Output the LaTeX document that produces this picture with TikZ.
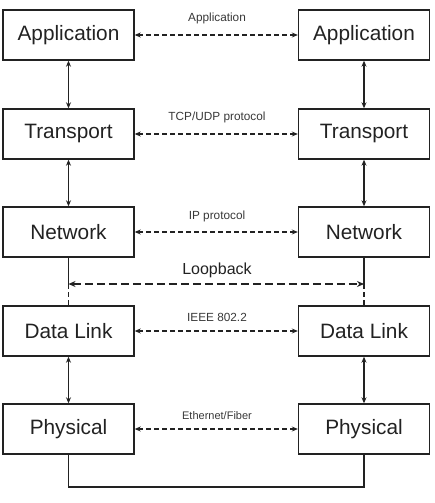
\documentclass[tikz,border=0pt]{standalone}
\usepackage{fontspec}
\setmainfont{Liberation Sans}
\usetikzlibrary{arrows.meta}
\definecolor{ln}{HTML}{222222}
\begin{document}
\begin{tikzpicture}[x=1pt,y=-1pt,
  layer/.style={draw=ln,line width=1.4pt,minimum width=131pt,minimum height=50pt,inner sep=0pt,font=\fontsize{20.8}{22}\selectfont,text=ln},
  proto/.style={font=\fontsize{11.8}{13}\selectfont,text=ln!90,inner sep=0pt},
  peer/.style={draw=ln,line width=1.4pt,dash pattern=on 5pt off 3pt,{Stealth[length=6pt,width=5pt]}-{Stealth[length=6pt,width=5pt]}},
  vert/.style={draw=ln,line width=1.4pt,{Stealth[length=6pt,width=5pt]}-{Stealth[length=6pt,width=5pt]}},
  plain/.style={draw=ln,line width=1.4pt}]
\useasboundingbox (0,0) rectangle (434,503);
\node[layer] (la) at (68.5,35) {Application};
\node[layer] (ra) at (364,35) {Application};
\node[layer] (lt) at (68.5,134) {Transport};
\node[layer] (rt) at (364,134) {Transport};
\node[layer] (ln) at (68.5,232) {Network};
\node[layer] (rn) at (364,232) {Network};
\node[layer] (ld) at (68.5,331) {Data Link};
\node[layer] (rd) at (364,331) {Data Link};
\node[layer] (lp) at (68.5,429) {Physical};
\node[layer] (rp) at (364,429) {Physical};
\node[proto] (pa) at (217,18) {Application};
\node[proto] (pt) at (217,117) {TCP/UDP protocol};
\node[proto] (pn) at (217,216) {IP protocol};
\node[font=\fontsize{16}{18}\selectfont,text=ln,inner sep=0pt] (plb) at (217,270) {Loopback};
\node[proto] (pd) at (217,317) {IEEE 802.2};
\node[proto,font=\fontsize{11}{13}\selectfont] (pp) at (217,416) {Ethernet/Fiber};
\draw[peer] (la) -- (ra);
\draw[peer] (lt) -- (rt);
\draw[peer] (ln) -- (rn);
\draw[peer] (ld) -- (rd);
\draw[peer] (lp) -- (rp);
\draw[vert] (la) -- (lt);
\draw[vert] (ra) -- (rt);
\draw[vert] (lt) -- (ln);
\draw[vert] (rt) -- (rn);
\draw[vert] (ld) -- (lp);
\draw[vert] (rd) -- (rp);
\coordinate (lb1) at (68.5,284);
\coordinate (lb2) at (364,284);
\draw[plain] (ln.south) -- (lb1);
\draw[plain] (rn.south) -- (lb2);
\draw[plain,dash pattern=on 5pt off 3pt] (lb1) -- (ld.north);
\draw[plain,dash pattern=on 5pt off 3pt] (lb2) -- (rd.north);
\draw[draw=ln,line width=1.9pt,dash pattern=on 8pt off 4pt,{Stealth[length=7pt,width=6pt]}-{Stealth[length=7pt,width=6pt]}] (lb1) -- (lb2);
\coordinate (b1) at (68.5,487);
\coordinate (b2) at (364,487);
\draw[plain] (lp.south) -- (b1) -- (b2) -- (rp.south);
\end{tikzpicture}
\end{document}
